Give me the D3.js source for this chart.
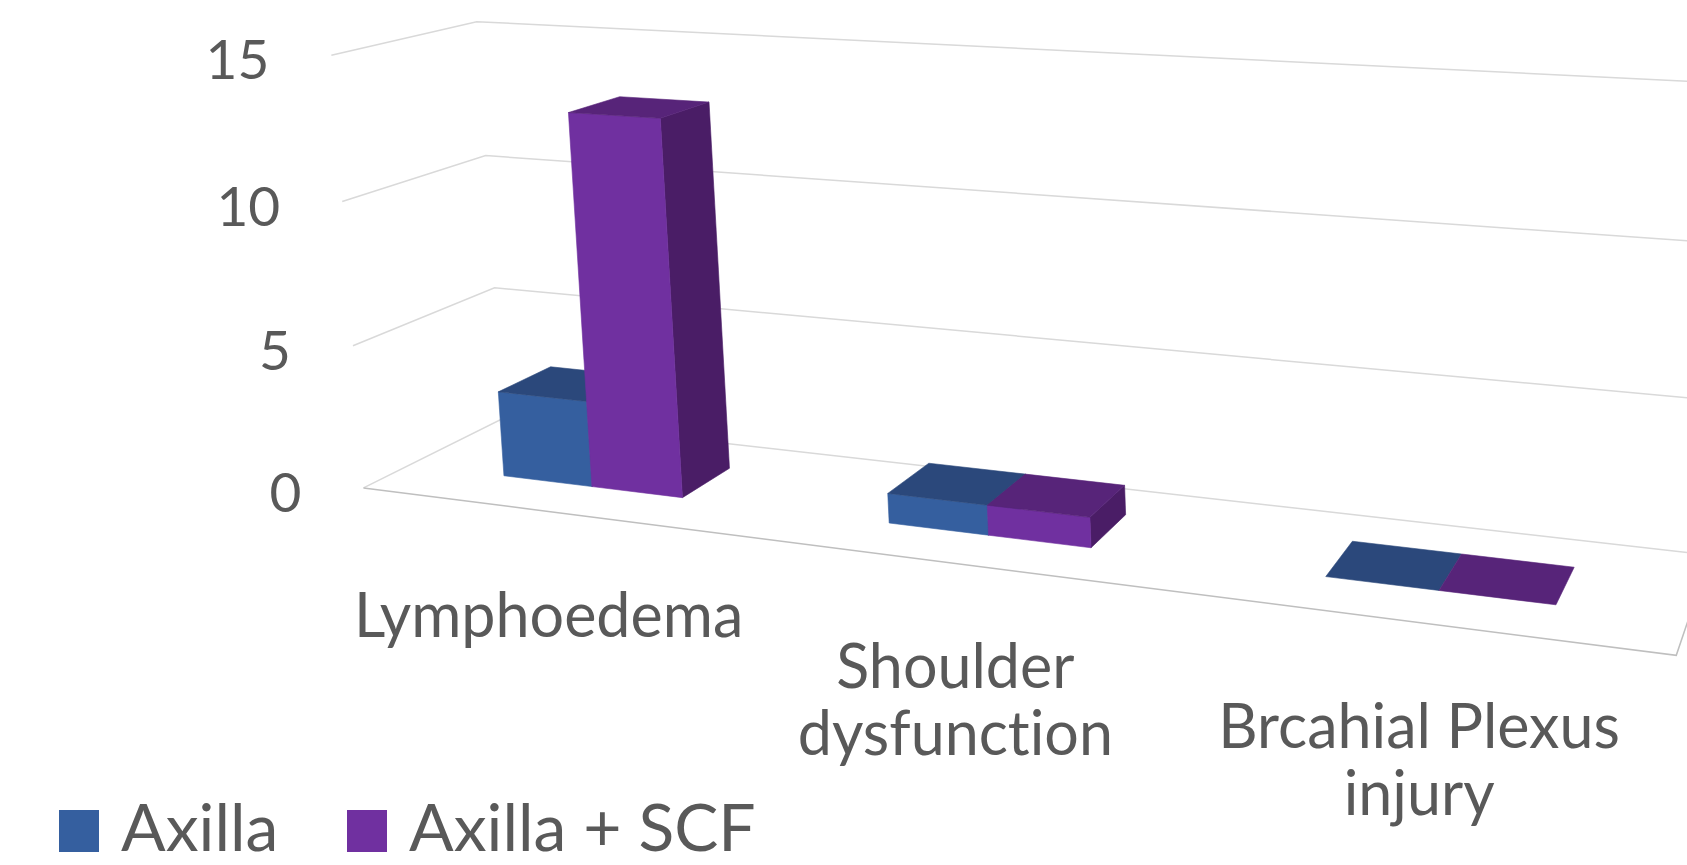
<!DOCTYPE html>
<html>
<head>
<meta charset="utf-8">
<script src="https://cdn.jsdelivr.net/npm/d3@7"></script>
<style>
  html, body { margin: 0; padding: 0; background: #fff; }
  svg { display: block; }
  text { font-family: Lato, "Open Sans", sans-serif; fill: #595959; font-variant-ligatures: none; font-feature-settings: "liga" 0, "dlig" 0; }
</style>
</head>
<body>
<div id="chart"></div>
<script>
// data
const categories = ["Lymphoedema", "Shoulder dysfunction", "Brcahial Plexus injury"];
const seriesNames = ["Axilla", "Axilla + SCF"];
const axillaValues = [3, 1, 0];
const axillaScfValues = [13, 1, 0];
const yTicks = [0, 5, 10, 15];

const seriesColors = {
  "Axilla":       { front: "#355f9f", top: "#2b487b", side: "#27416f" },
  "Axilla + SCF": { front: "#7030a0", top: "#572479", side: "#4a1d66" }
};

const width = 1687, height = 865;

// 3D box: x in category units (0..3), y in value units, z 0 = front .. 1 = back wall
// perspective camera (3x4 matrix) matching the Excel 3-D view
const P = [
  [337.56168, -2.6182101, 186.41834, 363.51849],
  [16.706020, -28.922412, -30.876145, 487.91654],
  [-0.059669787, -0.0014277575, 0.092687519, 1]
];
const camX = 3.586; // camera sits to the right of every bar

function project([X, Y, Z]) {
  const w = P[2][0] * X + P[2][1] * Y + P[2][2] * Z + P[2][3];
  return [
    (P[0][0] * X + P[0][1] * Y + P[0][2] * Z + P[0][3]) / w,
    (P[1][0] * X + P[1][1] * Y + P[1][2] * Z + P[1][3]) / w
  ];
}

const x = d3.scaleBand().domain(categories).range([0, 3]);
const xs = d3.scaleBand().domain(seriesNames).range([0, x.bandwidth()]).paddingOuter(1.09);
const y = d3.scaleLinear().domain([0, 15]).range([0, 15]);
const zFront = 0.319, zBack = 0.709;

const svg = d3.select("#chart").append("svg")
  .attr("width", width)
  .attr("height", height);

const line = d3.line();

// gridlines on side wall and back wall
const grid = svg.append("g")
  .attr("fill", "none")
  .attr("stroke", "#d9d9d9")
  .attr("stroke-width", 1.5);
yTicks.forEach(t => {
  grid.append("path").attr("d", line([[0, y(t), 0], [0, y(t), 1], [3, y(t), 1]].map(project)));
});

// floor front and right edge
svg.append("path")
  .attr("d", line([[0, 0, 0], [3, 0, 0], [3, 0, 1]].map(project)))
  .attr("fill", "none")
  .attr("stroke", "#bfbfbf")
  .attr("stroke-width", 1.5);

// bars
const bars = [];
categories.forEach((c, i) => {
  [axillaValues, axillaScfValues].forEach((vals, s) => {
    const name = seriesNames[s];
    const x0 = x(c) + xs(name);
    bars.push({ name, x0, x1: x0 + xs.bandwidth(), y0: y(0), y1: y(vals[i]), z0: zFront, z1: zBack });
  });
});
// farthest from the camera first
bars.sort((a, b) => Math.abs((b.x0 + b.x1) / 2 - camX) - Math.abs((a.x0 + a.x1) / 2 - camX));

function faces(b) {
  const f = [], col = seriesColors[b.name];
  if (b.y1 > b.y0) {
    f.push({ fill: col.side, pts: [[b.x1, b.y0, b.z0], [b.x1, b.y1, b.z0], [b.x1, b.y1, b.z1], [b.x1, b.y0, b.z1]] });
    f.push({ fill: col.front, pts: [[b.x0, b.y0, b.z0], [b.x1, b.y0, b.z0], [b.x1, b.y1, b.z0], [b.x0, b.y1, b.z0]] });
  }
  f.push({ fill: col.top, pts: [[b.x0, b.y1, b.z0], [b.x1, b.y1, b.z0], [b.x1, b.y1, b.z1], [b.x0, b.y1, b.z1]] });
  return f;
}

const barG = svg.append("g");
bars.forEach(b => {
  faces(b).forEach(f => {
    barG.append("path")
      .attr("d", line(f.pts.map(project)) + "Z")
      .attr("fill", f.fill)
      .attr("stroke", f.fill)
      .attr("stroke-width", 0.6);
  });
});

// value axis labels
svg.append("g").selectAll("text")
  .data(yTicks)
  .join("text")
  .attr("x", d => project([0, y(d), 0])[0] - 62)
  .attr("y", d => project([0, y(d), 0])[1] + 3)
  .attr("text-anchor", "end")
  .attr("dominant-baseline", "central")
  .attr("font-size", 55)
  .text(d => d);

// category labels, wrapped
const catG = svg.append("g");
categories.forEach(c => {
  const [px, py] = project([x(c) + x.bandwidth() / 2, 0, 0]);
  const t = catG.append("text").attr("text-anchor", "middle").attr("font-size", 61);
  const lines = [];
  let cur = [];
  c.split(" ").forEach(w => {
    t.text(cur.concat(w).join(" "));
    if (cur.length && t.node().getComputedTextLength() > 460) { lines.push(cur.join(" ")); cur = [w]; }
    else cur.push(w);
  });
  lines.push(cur.join(" "));
  t.text(null);
  lines.forEach((l, k) => t.append("tspan").attr("x", px).attr("y", py + 125 + k * 67).text(l));
});

// legend
const legendX = [59, 347];
seriesNames.forEach((s, i) => {
  svg.append("rect")
    .attr("x", legendX[i]).attr("y", 810)
    .attr("width", 40).attr("height", 42)
    .attr("fill", seriesColors[s].front);
  svg.append("text")
    .attr("x", legendX[i] + 62).attr("y", 851)
    .attr("font-size", 66)
    .text(s);
});
</script>
</body>
</html>
